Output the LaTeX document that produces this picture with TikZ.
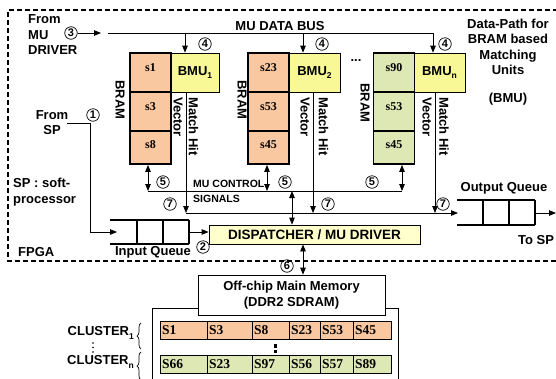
\documentclass[tikz,border=0pt]{standalone}
\usepackage{fontspec}
\setmainfont{Liberation Sans}
\newfontfamily\cellfont{Liberation Serif}
\usetikzlibrary{arrows.meta,decorations.pathreplacing}
\definecolor{bramor}{RGB}{250,200,160}
\definecolor{bmuyel}{RGB}{248,248,150}
\definecolor{bramgr}{RGB}{222,232,180}
\definecolor{dispy}{RGB}{255,255,204}
\newcommand{\lowsub}[1]{\raisebox{-3.5pt}{\fontsize{8.5}{9}\selectfont #1}}
\begin{document}
\begin{tikzpicture}[x=1pt,y=-1pt,
  tx/.style={font=\fontsize{13}{15.5}\selectfont\bfseries, inner sep=0pt, align=center},
  txs/.style={font=\fontsize{10.5}{15}\selectfont\bfseries, inner sep=0pt, align=left},
  num/.style={circle, draw, line width=0.7pt, inner sep=0pt, minimum size=12.5pt, font=\fontsize{11}{11}\selectfont\bfseries},
  bramcell/.style={draw, line width=1.8pt, minimum width=41pt, inner sep=0pt},
  bmubox/.style={draw, line width=0.7pt, fill=bmuyel, minimum height=39pt, inner sep=0pt, font=\fontsize{13}{15}\selectfont\bfseries},
  stxt/.style={font=\cellfont\fontsize{12}{12}\selectfont\bfseries, inner sep=0pt},
  mtxt/.style={font=\cellfont\fontsize{13.5}{14}\selectfont\bfseries, inner sep=0pt, anchor=west},
  vtxt/.style={font=\fontsize{13}{15}\selectfont\bfseries, inner sep=0pt, rotate=-90, anchor=west},
  ln/.style={line width=0.8pt},
  arr/.style={ln, -{Triangle[length=7pt,width=5.5pt]}},
  darr/.style={ln, {Triangle[length=7pt,width=5.5pt]}-{Triangle[length=7pt,width=5.5pt]}},
  queue/.style={line width=1.8pt},
  mcell/.style={draw, line width=0.7pt, inner sep=0pt, minimum height=18pt, anchor=north west}
]
\useasboundingbox (0,0) rectangle (556,378);

% FPGA dashed border
\draw[line width=1.8pt, dash pattern=on 5pt off 3pt] (558,10) -- (8,10) -- (8,261) -- (558,261);

% texts top-left
\node[tx, align=left, anchor=west] (fromdrv) at (28,35) {From\\MU\\DRIVER};
\node[num] (n3) at (71,33) {3};
\coordinate (busin) at (101,33);
\draw[arr] (n3) -- (busin);
\coordinate (busL) at (108,33);
\coordinate (busR) at (433,33);
\draw[ln] (busL) -- (busR);
\node[tx] (busl) at (280,26) {MU DATA BUS};

\node[tx] (title) at (508,47) {Data-Path for\\BRAM based\\Matching\\Units};
\node[tx] (bmut) at (508,99) {(BMU)};

% BMU boxes
\node[bmubox, minimum width=48pt] (bmu1) at (195,72.5) {BMU\lowsub{1}};
\node[bmubox, minimum width=51pt] (bmu2) at (314.5,72.5) {BMU\lowsub{2}};
\node[bmubox, minimum width=51pt] (bmun) at (439.5,72.5) {BMU\lowsub{n}};

% BRAM columns
\foreach \c/\x/\col/\sa/\sb/\sc in {1/150.5/bramor/s1/s3/s8, 2/268.5/bramor/s23/s53/s45, n/394/bramgr/s90/s53/s45}{
  \node[bramcell, fill=\col, minimum height=39pt] (br\c a) at (\x,72.5) {};
  \node[bramcell, fill=\col, minimum height=39pt] (br\c b) at (\x,111.5) {};
  \node[bramcell, fill=\col, minimum height=33pt] (br\c c) at (\x,147.5) {};
  \node[stxt] at ([yshift=4.5pt]br\c a.center) {\sa};
  \node[stxt] at ([yshift=5pt]br\c b.center) {\sb};
  \node[stxt] at ([yshift=2.5pt]br\c c.center) {\sc};
}
\node[vtxt, anchor=center] (bl1) at (120,100) {BRAM};
\node[vtxt, anchor=center] (bl2) at (242,100) {BRAM};
\node[vtxt, anchor=center] (bln) at (365,103) {BRAM};

\node[tx] (dots) at (356,61) {...};

% bus drops
\draw[arr] (185,33) -- (185,0 |- bmu1.north);
\draw[arr] (303,33) -- (303,0 |- bmu2.north);
\draw[arr] (433,33) -- (433,0 |- bmun.north);
\node[num] (n4a) at (205,44) {4};
\node[num] (n4b) at (322,44) {4};
\node[num] (n4c) at (445,44) {4};

% Vector / Match Hit labels
\node[vtxt] (v1) at (178,97) {Vector};
\node[vtxt] (m1) at (193.5,97) {Match Hit};
\node[vtxt] (v2) at (305,97) {Vector};
\node[vtxt] (m2) at (323.5,97) {Match Hit};
\node[vtxt] (vn) at (427,97) {Vector};
\node[vtxt] (mn) at (444,97) {Match Hit};

% match hit lines (7)
\coordinate (h7L) at (186,213);
\coordinate (h7a) at (313,213);
\coordinate (h7b) at (435,213);
\coordinate (oqin) at (458,213);
\draw[arr] (186,0 |- bmu1.south) -- (h7L);
\draw[arr] (313,0 |- bmu2.south) -- (h7a);
\draw[arr] (435,0 |- bmun.south) -- (h7b);
\draw[arr] (h7L) -- (oqin);
\node[num] (n7a) at (170,204) {7};
\node[num] (n7b) at (328,204) {7};
\node[num] (n7c) at (443,204) {7};

% control lines (5)
\coordinate (c5a) at (148,191);
\coordinate (c5b) at (267,191);
\coordinate (c5c) at (402,191);
\coordinate (c5d) at (292,191);
\draw[ln] (c5a) -- (c5c);
\draw[darr] (148,0 |- br1c.south) -- (c5a);
\draw[darr] (267,0 |- br2c.south) -- (c5b);
\draw[darr] (402,0 |- brnc.south) -- (c5c);
\node[num] (n5a) at (163,182) {5};
\node[num] (n5b) at (285,182) {5};
\node[num] (n5c) at (372,182) {5};
\node[txs, anchor=west] (mucs) at (193,191.5) {MU CONTROL\\SIGNALS};

% dispatcher
\node[draw, ln, fill=dispy, minimum width=211pt, minimum height=19pt, inner sep=0pt, font=\fontsize{13.5}{15}\selectfont\bfseries] (disp) at (314.5,234.5) {DISPATCHER / MU DRIVER};
\draw[darr] (c5d) -- (292,0 |- disp.north);

% input queue
\draw[queue] (110,220) -- (189,220) (110,244) -- (189,244);
\draw[queue] (137,220) -- (137,244) (163,220) -- (163,244) (189,220) -- (189,244);
\coordinate (iqin) at (117,232);
\coordinate (iqout) at (189,232);
\node[tx] (iql) at (153,252.5) {Input Queue};
\draw[arr] (iqout) -- (disp.west |- iqout);
\node[num] (n2) at (203,247) {2};

% from SP
\node[tx] (fromsp) at (52,122.5) {From\\SP};
\node[num] (n1) at (93,115) {1};
\draw[arr] (67,123) -- (90,123) -- (90,232) -- (iqin);

\node[tx, align=left, anchor=west] (spsoft) at (13,192) {SP : soft-\\processor};
\node[tx, anchor=west] (fpga) at (18,252) {FPGA};

% output queue
\draw[queue] (457,200) -- (535,200) (457,225) -- (535,225);
\draw[queue] (483,200) -- (483,225) (509,200) -- (509,225) (535,200) -- (535,225);
\coordinate (oqout) at (535,213);
\coordinate (tosp) at (556,213);
\draw[arr] (oqout) -- (tosp);
\node[tx] (oql) at (504,188) {Output Queue};
\node[tx] (tospl) at (536,240) {To SP};

% memory
\draw[line width=0.7pt] (152,380) -- (152,308) -- (398,308) -- (398,380);
\node[draw, line width=0.7pt, fill=white, minimum width=187pt, minimum height=40pt, inner sep=0pt, font=\fontsize{13}{16}\selectfont\bfseries, align=center] (mem) at (291.5,295) {Off-chip Main Memory\\(DDR2 SDRAM)};
\draw[darr] (303,0 |- disp.south) -- (303,0 |- mem.north);
\node[num] (n6) at (287,266) {6};

\foreach \a/\b/\t [count=\i] in {160/207/S1, 207/252/S3, 252/289/S8, 289/320/S23, 320/353/S53, 353/391/S45}{
  \node[mcell, fill=bramor, minimum width={(\b-\a)*1pt}] (ra\i) at (\a,321) {};
  \node[mtxt] at ([xshift=2pt]ra\i.west) {\t};
}
\foreach \a/\b/\t [count=\i] in {160/207/S66, 207/252/S23, 252/289/S97, 289/320/S56, 320/353/S57, 353/391/S89}{
  \node[mcell, fill=bramgr, minimum width={(\b-\a)*1pt}] (rb\i) at (\a,355) {};
  \node[mtxt] at ([xshift=2pt]rb\i.west) {\t};
}
\fill (273.5,344) rectangle (276.5,347.5);
\fill (273.5,349.5) rectangle (276.5,353);

% clusters
\node[tx, anchor=east] (cl1) at (134,333) {CLUSTER\lowsub{1}};
\node[tx, anchor=east] (cln) at (134,362) {CLUSTER\lowsub{n}};
\draw[decorate, decoration={brace, amplitude=4pt}, line width=0.7pt] (141,349) -- (141,323);
\draw[decorate, decoration={brace, amplitude=4pt}, line width=0.7pt] (141,380) -- (141,352);
\fill (93,343) circle (0.9) (93,347.5) circle (0.9) (93,352) circle (0.9);
\end{tikzpicture}
\end{document}
